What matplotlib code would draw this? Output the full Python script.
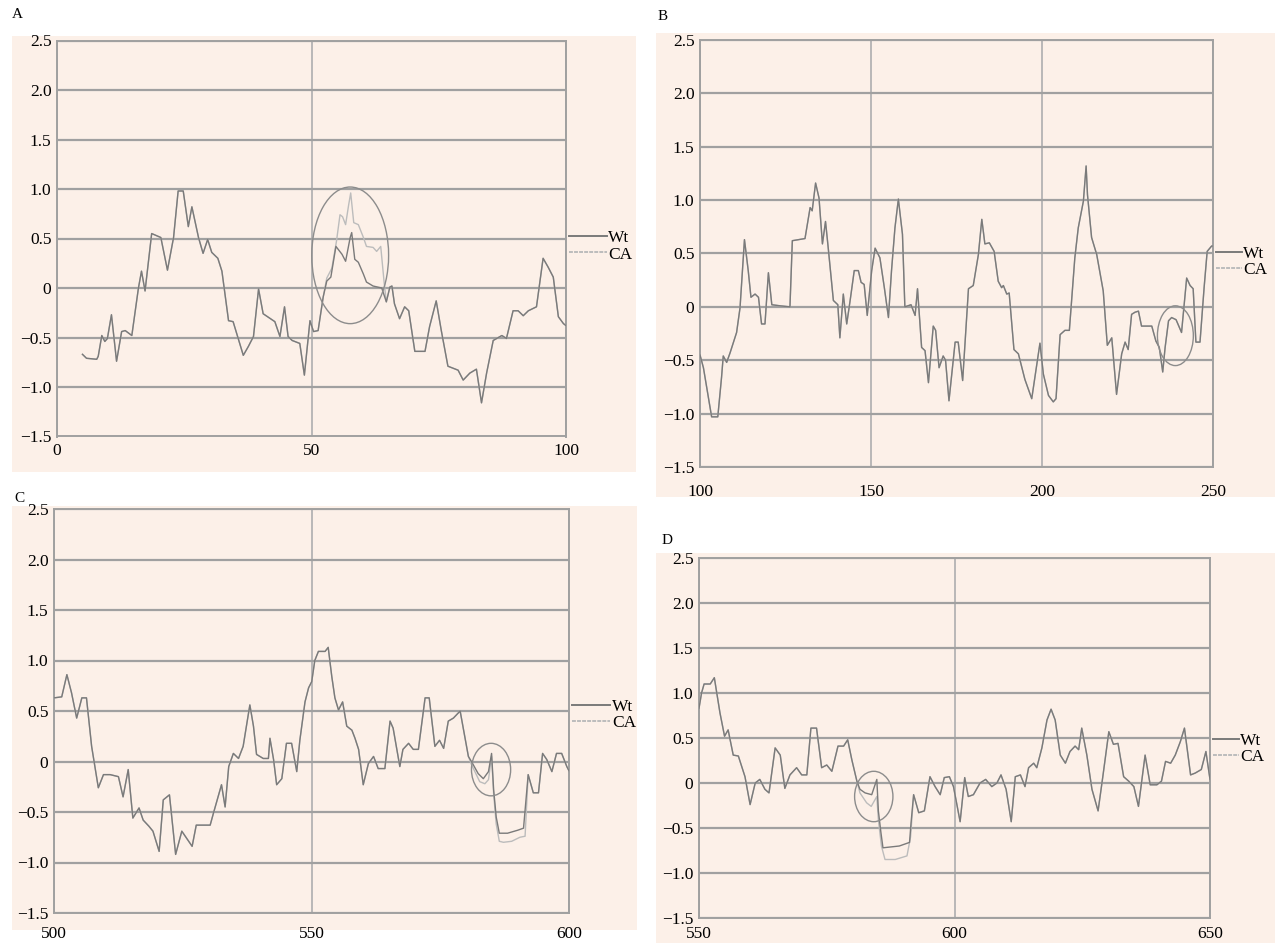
import numpy as np
import matplotlib.pyplot as plt
from matplotlib.patches import Rectangle, Ellipse
from matplotlib.lines import Line2D

# ---- data ----
a_x = [5, 5.8, 7.8, 8.1, 8.8, 9.4, 9.9, 10.7, 11.7, 12.7, 13.4, 14.7, 16.0, 16.6, 17.3, 18.6, 20.4, 21.7,
       22.9, 23.8, 24.8, 25.8, 26.5, 27.8, 28.7, 29.6, 30.4, 31.6, 32.4, 33.7, 34.6, 36.6, 37.6, 38.6, 39.6,
       40.5, 42.8, 43.8, 44.7, 45.4, 46.2, 47.7, 48.6, 49.7, 50.4, 51.3, 52.3, 53.0, 53.8, 54.8, 56.0, 56.7,
       57.6, 57.9, 58.5, 59.2, 60.2, 60.8, 62.1, 63.8, 64.7, 65.4, 65.8, 66.3, 67.3, 68.3, 69.1, 70.3, 72.3,
       73.2, 74.5, 75.5, 76.8, 77.8, 78.8, 79.8, 81.1, 82.4, 83.4, 84.4, 85.7, 87.4, 88.3, 89.6, 90.6, 91.6,
       92.6, 94.2, 95.5, 96.5, 97.5, 98.5, 99.5, 100]
a_wt = [-0.67, -0.71, -0.72, -0.69, -0.48, -0.54, -0.51, -0.27, -0.74, -0.44, -0.43, -0.48, 0.0, 0.17, -0.03,
        0.55, 0.51, 0.18, 0.51, 0.98, 0.98, 0.62, 0.82, 0.51, 0.35, 0.49, 0.36, 0.30, 0.17, -0.33, -0.34,
        -0.68, -0.59, -0.49, -0.01, -0.26, -0.34, -0.49, -0.19, -0.49, -0.53, -0.56, -0.88, -0.33, -0.44,
        -0.43, -0.09, 0.07, 0.11, 0.42, 0.34, 0.27, 0.51, 0.56, 0.29, 0.26, 0.14, 0.06, 0.02, 0.0, -0.14,
        0.01, 0.02, -0.16, -0.31, -0.19, -0.23, -0.64, -0.64, -0.39, -0.13, -0.43, -0.79, -0.81, -0.83,
        -0.93, -0.86, -0.82, -1.16, -0.86, -0.53, -0.48, -0.51, -0.23, -0.23, -0.28, -0.23, -0.19, 0.30,
        0.21, 0.11, -0.29, -0.36, -0.38]
a_ca_x = [52.3, 53.0, 54.0, 54.9, 55.6, 56.1, 56.7, 57.3, 57.7, 58.3, 59.2, 60.2, 60.8, 62.1, 62.8, 63.6, 64.3, 64.7]
a_ca = [-0.09, 0.10, 0.20, 0.47, 0.74, 0.72, 0.64, 0.84, 0.96, 0.66, 0.64, 0.51, 0.42, 0.41, 0.37, 0.42, 0.04, -0.14]

b_x = [100, 101.0, 103.4, 105.2, 106.3, 106.8, 107.8, 108.8, 110.7, 111.7, 113.0, 114.1, 114.9, 116.1, 117.1,
       118.0, 119.0, 120.0, 121.0, 123.4, 126.3, 127.0, 130.7, 132.2, 132.8, 133.8, 134.8, 135.8, 136.7,
       137.5, 139.0, 140.3, 140.9, 141.9, 142.9, 143.9, 145.1, 146.3, 147.1, 148.0, 148.9, 150.2, 151.2,
       152.6, 153.9, 155.1, 156.0, 157.0, 158.0, 159.2, 159.9, 161.7, 162.9, 163.6, 164.8, 165.8, 166.8,
       168.2, 168.9, 169.9, 171.1, 171.8, 172.8, 174.6, 175.5, 176.8, 178.5, 179.9, 181.4, 182.4, 183.3,
       184.6, 186.0, 187.2, 188.2, 188.7, 189.7, 190.4, 191.8, 193.1, 195.0, 197.0, 198.2, 199.4, 200.4,
       201.9, 203.3, 204.1, 205.3, 206.7, 208.0, 209.6, 210.6, 212.1, 212.9, 213.3, 214.5, 216.0, 217.9,
       219.1, 220.4, 221.8, 223.3, 224.3, 225.2, 226.2, 227.2, 228.2, 229.1, 230.6, 232.1, 233.3, 234.3,
       235.3, 236.0, 237.0, 237.9, 239.2, 240.8, 242.3, 243.3, 244.2, 245.0, 246.2, 247.4, 248.3, 249.6, 250]
b_wt = [-0.45, -0.57, -1.03, -1.03, -0.66, -0.46, -0.52, -0.43, -0.24, -0.01, 0.63, 0.34, 0.09, 0.12, 0.09,
        -0.16, -0.16, 0.32, 0.02, 0.01, 0.0, 0.62, 0.64, 0.93, 0.90, 1.16, 1.02, 0.59, 0.80, 0.55, 0.06,
        0.02, -0.29, 0.12, -0.16, 0.06, 0.34, 0.34, 0.23, 0.21, -0.08, 0.34, 0.55, 0.46, 0.18, -0.10, 0.34,
        0.74, 1.01, 0.68, 0.0, 0.02, -0.08, 0.17, -0.38, -0.41, -0.71, -0.18, -0.22, -0.57, -0.46, -0.50,
        -0.88, -0.33, -0.33, -0.69, 0.17, 0.20, 0.49, 0.82, 0.59, 0.60, 0.52, 0.24, 0.18, 0.20, 0.12, 0.13,
        -0.40, -0.44, -0.68, -0.86, -0.60, -0.34, -0.63, -0.83, -0.89, -0.86, -0.26, -0.22, -0.22, 0.46,
        0.74, 0.99, 1.32, 1.05, 0.65, 0.49, 0.15, -0.36, -0.29, -0.82, -0.44, -0.33, -0.40, -0.07, -0.05,
        -0.04, -0.18, -0.18, -0.18, -0.32, -0.38, -0.61, -0.38, -0.13, -0.10, -0.12, -0.24, 0.27, 0.20,
        0.17, -0.33, -0.33, 0.18, 0.52, 0.57, 0.57]
b_ca_x = []
b_ca = []

c_x = [500, 501.5, 502.5, 503.4, 504.4, 505.4, 506.3, 507.3, 508.6, 509.6, 510.9, 512.5, 513.4, 514.4, 515.3,
       516.5, 517.3, 518.4, 519.2, 520.4, 521.2, 522.4, 523.6, 524.8, 526.8, 527.6, 530.3, 531.0, 532.5,
       533.2, 533.9, 534.8, 535.8, 536.7, 538.0, 538.7, 539.3, 540.6, 541.6, 541.9, 542.6, 543.2, 544.2,
       545.1, 546.1, 547.1, 547.7, 548.7, 549.4, 550.0, 550.6, 551.3, 552.6, 553.2, 553.9, 554.5, 555.2,
       556.0, 556.8, 557.8, 558.4, 559.1, 560.0, 561.0, 562.0, 562.9, 564.2, 565.2, 565.8, 567.1, 567.7,
       568.8, 569.7, 570.7, 572.0, 572.8, 573.9, 574.8, 575.6, 576.5, 577.5, 578.8, 580.4, 581.0, 582.3,
       583.3, 584.3, 584.9, 585.3, 585.8, 586.4, 588.0, 590.0, 591.1, 592.0, 593.0, 594.0, 594.8, 595.6,
       596.6, 597.5, 598.5, 599.5, 600]
c_wt = [0.63, 0.64, 0.86, 0.68, 0.43, 0.63, 0.63, 0.15, -0.26, -0.13, -0.13, -0.15, -0.35, -0.08, -0.56,
        -0.46, -0.58, -0.64, -0.69, -0.89, -0.38, -0.33, -0.92, -0.69, -0.84, -0.63, -0.63, -0.50, -0.23,
        -0.45, -0.05, 0.08, 0.03, 0.15, 0.56, 0.35, 0.07, 0.03, 0.03, 0.23, 0.02, -0.23, -0.17, 0.18, 0.18,
        -0.10, 0.21, 0.59, 0.73, 0.79, 1.00, 1.09, 1.09, 1.13, 0.84, 0.63, 0.51, 0.59, 0.35, 0.31, 0.23,
        0.12, -0.23, -0.02, 0.05, -0.07, -0.07, 0.40, 0.33, -0.05, 0.12, 0.18, 0.12, 0.12, 0.63, 0.63, 0.15,
        0.21, 0.13, 0.40, 0.43, 0.50, 0.05, 0.0, -0.12, -0.17, -0.10, 0.08, -0.28, -0.55, -0.71, -0.71,
        -0.68, -0.66, -0.13, -0.31, -0.31, 0.08, 0.02, -0.10, 0.08, 0.08, -0.05, -0.10]
c_ca_x = [580.4, 581.0, 582.6, 583.6, 584.3, 584.9, 585.3, 585.8, 586.4, 587.2, 588.8, 590.4, 591.4, 592.0]
c_ca = [0.05, -0.03, -0.20, -0.22, -0.18, 0.05, -0.32, -0.62, -0.79, -0.80, -0.79, -0.75, -0.74, -0.13]

d_x = [550, 550.5, 551.0, 552.2, 553.0, 554.1, 555.0, 555.7, 556.7, 557.7, 559.0, 560.0, 561.0, 561.9, 562.9,
       563.7, 564.9, 565.9, 566.8, 567.8, 569.1, 570.1, 571.1, 571.9, 573.0, 574.0, 575.0, 576.0, 577.2,
       578.3, 579.1, 579.9, 580.9, 581.5, 582.5, 583.8, 584.8, 585.1, 585.6, 586.0, 589.2, 591.2, 591.5,
       592.0, 593.0, 594.1, 595.2, 596.2, 597.2, 598.0, 599.0, 599.8, 601.1, 602.0, 602.7, 603.7, 605.0,
       606.1, 607.3, 608.3, 609.1, 610.1, 611.1, 611.9, 612.9, 613.8, 614.5, 615.5, 616.1, 617.1, 618.1,
       618.9, 619.7, 620.7, 621.7, 622.6, 623.6, 624.3, 624.9, 625.9, 626.9, 628.1, 629.0, 630.2, 631.1,
       632.0, 633.1, 634.1, 635.1, 636.0, 637.3, 638.3, 639.6, 640.5, 641.3, 642.3, 643.2, 644.2, 645.0,
       646.2, 647.1, 648.3, 649.2, 650.0]
d_wt = [0.83, 1.0, 1.1, 1.1, 1.17, 0.78, 0.52, 0.59, 0.31, 0.30, 0.07, -0.24, 0.0, 0.04, -0.07, -0.11, 0.39,
        0.31, -0.06, 0.09, 0.17, 0.09, 0.09, 0.61, 0.61, 0.17, 0.20, 0.13, 0.41, 0.41, 0.48, 0.26, 0.02,
        -0.07, -0.11, -0.13, 0.04, -0.31, -0.55, -0.72, -0.70, -0.66, -0.44, -0.13, -0.33, -0.31, 0.07,
        -0.04, -0.13, 0.06, 0.07, -0.04, -0.43, 0.06, -0.15, -0.13, 0.0, 0.04, -0.04, 0.0, 0.09, -0.07,
        -0.43, 0.07, 0.09, -0.04, 0.17, 0.22, 0.17, 0.39, 0.70, 0.82, 0.70, 0.31, 0.22, 0.35, 0.41, 0.37,
        0.61, 0.31, -0.07, -0.31, 0.06, 0.57, 0.43, 0.44, 0.07, 0.02, -0.04, -0.26, 0.31, -0.02, -0.02,
        0.02, 0.24, 0.22, 0.31, 0.46, 0.61, 0.09, 0.11, 0.15, 0.35, 0.04]
d_ca_x = [580.9, 581.5, 582.8, 583.7, 584.8, 585.1, 585.7, 586.4, 588.4, 590.7, 591.4, 592.0]
d_ca = [0.02, -0.11, -0.22, -0.26, -0.15, -0.41, -0.70, -0.85, -0.85, -0.81, -0.60, -0.13]

y_ticks = [-1.5, -1.0, -0.5, 0, 0.5, 1.0, 1.5, 2.0, 2.5]
y_labels = ["\u22121.5", "\u22121.0", "\u22120.5", "0", "0.5", "1.0", "1.5", "2.0", "2.5"]
series = ["Wt", "CA"]

W, H = 1275, 943
PINK = "#fcf0e8"
GRID = "#a0a0a0"
WT_C = "#7a7a7a"
CA_C = "#bcbcbc"
FS = 12.5

plt.rcParams["font.family"] = ["Liberation Serif", "DejaVu Serif"]

fig = plt.figure(figsize=(W / 100, H / 100), dpi=100)


def fbox(l, t, r, b):
    return [l / W, 1 - b / H, (r - l) / W, (b - t) / H]


def splice(wx, wy, sx, sy):
    if not sx:
        return wx, wy
    bx = [x for x in wx if x < sx[0]]
    by = [y for x, y in zip(wx, wy) if x < sx[0]]
    ax_ = [x for x in wx if x > sx[-1]]
    ay = [y for x, y in zip(wx, wy) if x > sx[-1]]
    return bx + sx + ax_, by + sy + ay


panels = [
    # letter, x, wt, ca_x, ca, xlim, xticks, bg rect, axes rect, letter pos, xpad, legend y, circle, handle len
    ("A", a_x, a_wt, a_ca_x, a_ca, (0, 100), [0, 50, 100], (12, 36, 636, 472), (57, 40.5, 566, 436.5),
     (12, 15), 5, 0.48, (57.6, 0.33, 15.1, 1.38), 2.2),
    ("B", b_x, b_wt, b_ca_x, b_ca, (100, 250), [100, 150, 200, 250], (656, 33, 1275, 497), (700, 40, 1213, 467),
     (658, 16), 12.5, 0.48, (239.0, -0.27, 10.5, 0.56), 1.5),
    ("C", c_x, c_wt, c_ca_x, c_ca, (500, 600), [500, 550, 600], (12, 506, 637, 930), (54, 509, 569.4, 913),
     (14, 498), 9, 0.49, (584.8, -0.08, 7.6, 0.52), 2.2),
    ("D", d_x, d_wt, d_ca_x, d_ca, (550, 650), [550, 600, 650], (656, 553, 1275, 943), (699, 558, 1210, 918),
     (662, 541), 6, 0.47, (584.2, -0.15, 7.5, 0.56), 1.5),
]

for letter, xs, wt, cax, ca, xlim, xticks, bg, rect, lpos, xpad, legy, circ, hlen in panels:
    fig.patches.append(Rectangle((bg[0] / W, 1 - bg[3] / H), (bg[2] - bg[0]) / W, (bg[3] - bg[1]) / H,
                                 transform=fig.transFigure, facecolor=PINK, edgecolor="none", zorder=-5))
    ax = fig.add_axes(fbox(*rect))
    ax.set_facecolor(PINK)

    cx, cy = splice(xs, wt, cax, ca)
    ax.plot(cx, cy, color=CA_C, lw=1.0, zorder=3)
    ax.plot(xs, wt, color=WT_C, lw=1.0, zorder=4)
    ax.add_patch(Ellipse((circ[0], circ[1]), circ[2], circ[3], fill=False, ec="#8c8c8c", lw=1.0, zorder=5))

    ax.set_xlim(*xlim)
    ax.set_ylim(-1.5, 2.5)
    ax.set_xticks(xticks)
    ax.set_yticks(y_ticks)
    ax.set_yticklabels(y_labels)
    ax.tick_params(length=0, labelsize=FS, colors="black")
    ax.tick_params(axis="x", pad=xpad)
    ax.tick_params(axis="y", pad=4)
    ax.grid(axis="y", color=GRID, lw=1.6, zorder=1)
    ax.grid(axis="x", color="#b3b3b3", lw=1.3, zorder=1)
    for s in ax.spines.values():
        s.set_color(GRID)
        s.set_linewidth(1.4)

    handles = [Line2D([], [], color=WT_C, lw=1.4), Line2D([], [], color=CA_C, lw=1.4, ls=(0, (2, 0.6)))]
    ax.legend(handles, series, loc="center left", bbox_to_anchor=(1.005, legy), frameon=False,
              fontsize=FS, handlelength=hlen, handletextpad=0.1, labelspacing=0.0,
              borderaxespad=0, borderpad=0)

    fig.text(lpos[0] / W, 1 - lpos[1] / H, letter, fontsize=11, ha="left", va="center")

fig.savefig("out.png", dpi=100, facecolor="white")
